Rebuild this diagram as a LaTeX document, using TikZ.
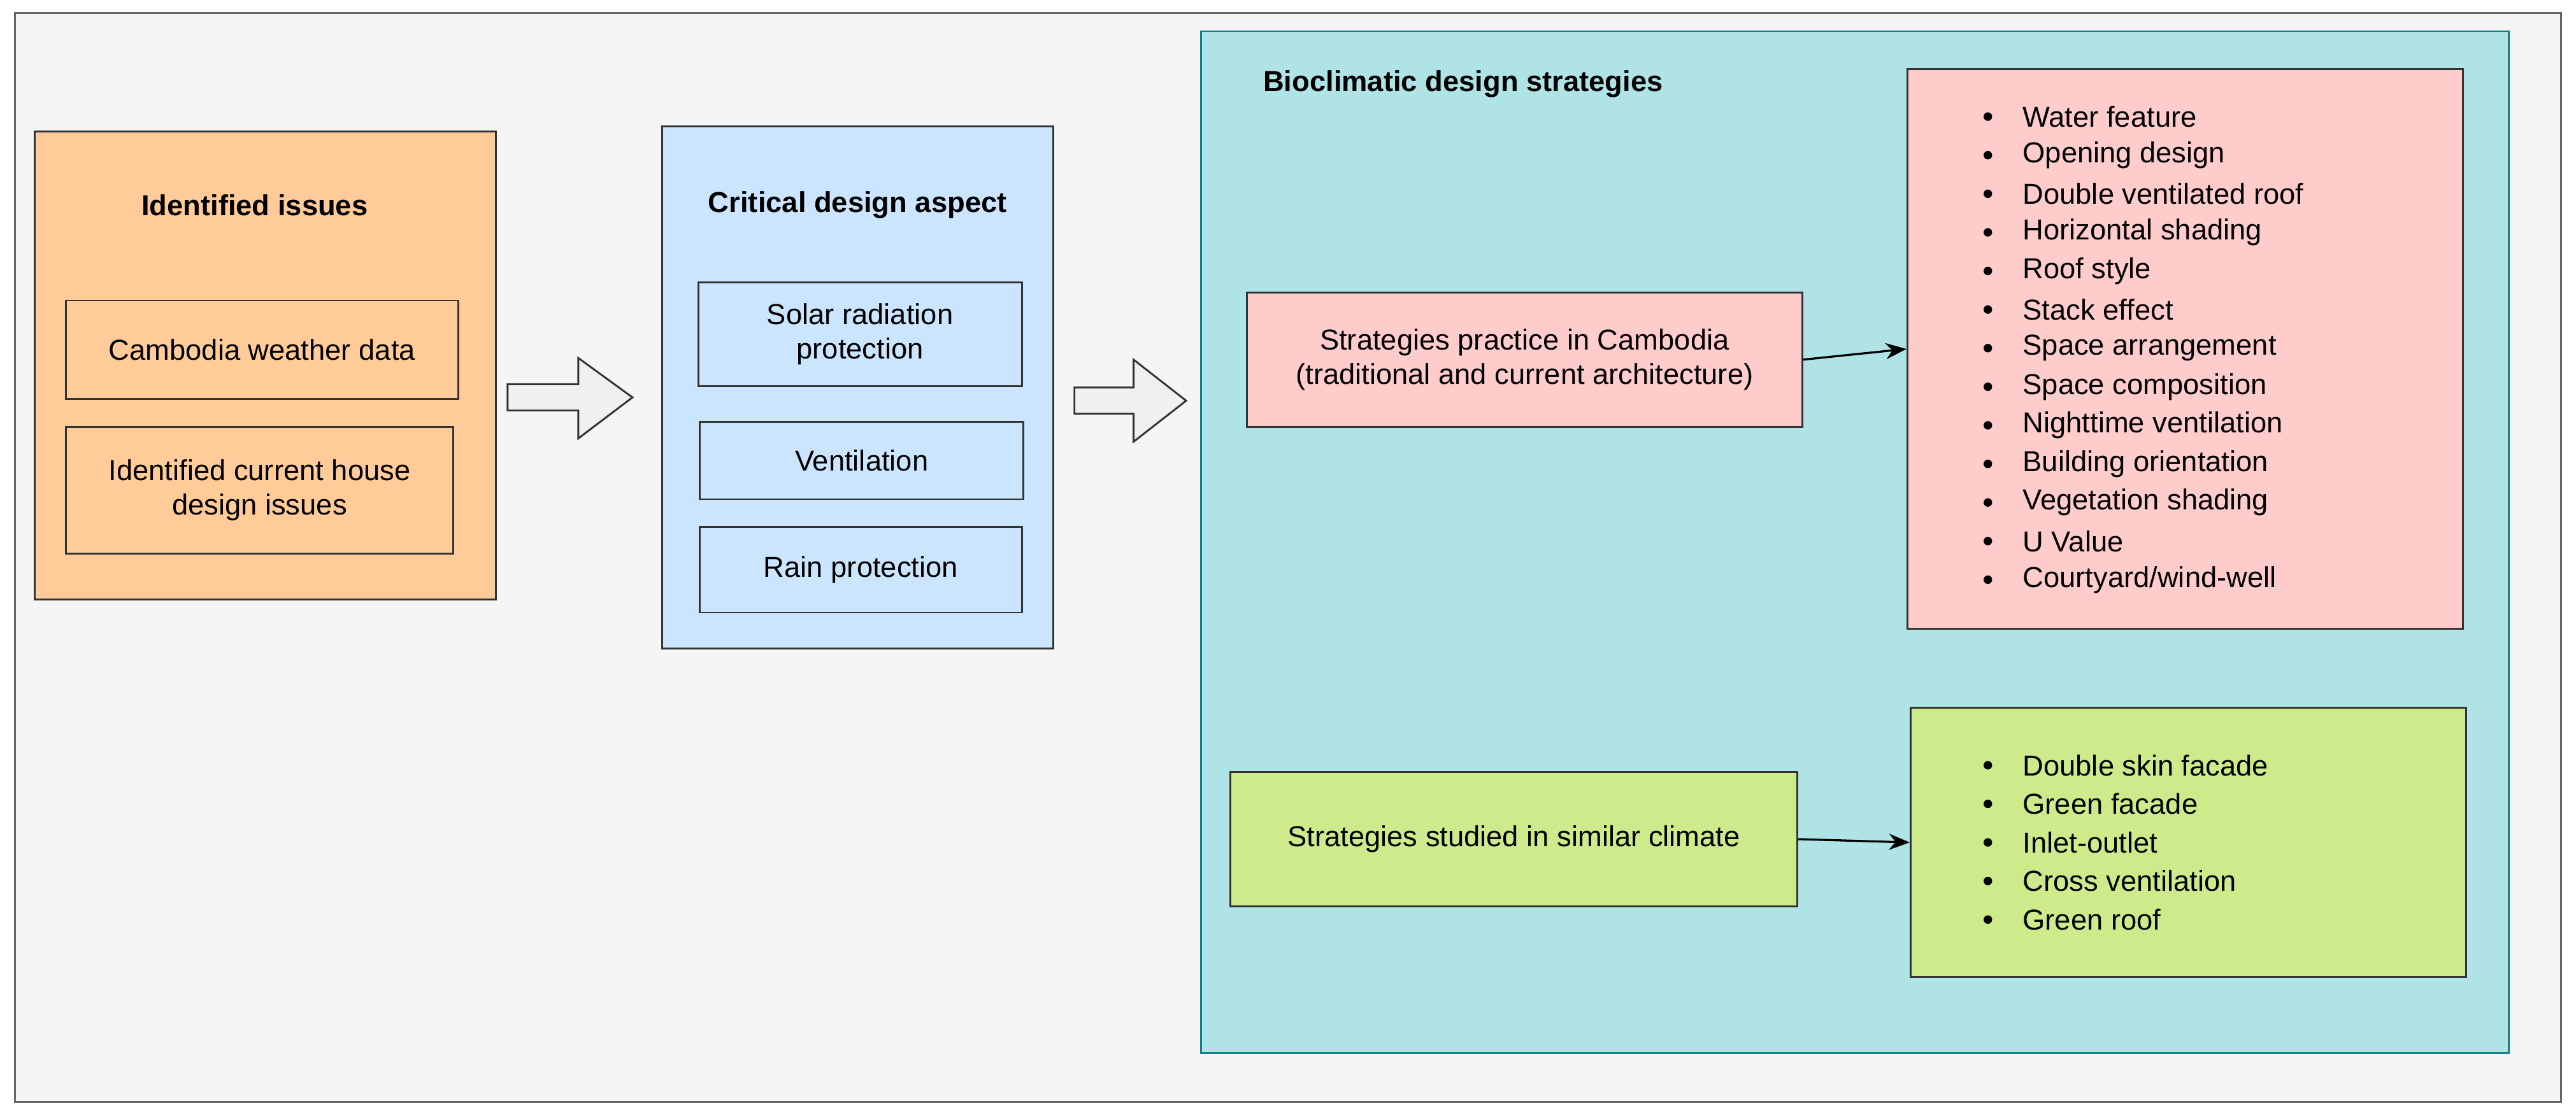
\documentclass[tikz,border=0pt]{standalone}
\usepackage{fontspec}
\setmainfont{Liberation Sans}
\usetikzlibrary{arrows.meta}
\definecolor{bgc}{HTML}{F5F5F5}
\definecolor{bgs}{HTML}{666666}
\definecolor{orf}{HTML}{FFCC99}
\definecolor{blf}{HTML}{CCE5FF}
\definecolor{tlf}{HTML}{B0E3E6}
\definecolor{tls}{HTML}{0E8088}
\definecolor{pkf}{HTML}{FFCCCC}
\definecolor{gnf}{HTML}{CDEB8B}
\definecolor{arf}{HTML}{F0F0F0}
\definecolor{stk}{HTML}{333333}
\begin{document}
\begin{tikzpicture}[x=0.025cm,y=-0.025cm,
  box/.style={draw=stk,line width=0.8pt},
  txt/.style={font=\fontsize{12.5}{15}\selectfont,align=center,text=black},
  ttl/.style={font=\fontsize{12.5}{15}\selectfont\bfseries,text=black},
  item/.style={font=\fontsize{12.5}{15}\selectfont,anchor=west,inner sep=0pt},
  conn/.style={-{Stealth[length=9pt,width=7pt]},line width=0.9pt,black}]
\useasboundingbox (0,0) rectangle (1568,682);
\draw[fill=bgc,draw=bgs,line width=0.8pt] (9,8) rectangle (1559,671);
% orange
\draw[box,fill=orf] (21,80) rectangle (302,365);
\node[ttl] (t1) at (155,125) {Identified issues};
\draw[box] (40,183) rectangle (279,243);
\node[txt] (o1) at (159.5,213) {Cambodia weather data};
\draw[box] (40,260) rectangle (276,337);
\node[txt] (o2) at (158,298.5) {Identified current house\\design issues};
% arrow 1
\draw[box,fill=arf] (309,234)--(352,234)--(352,218)--(385,242)--(352,267)--(352,250)--(309,250)--cycle;
% blue
\draw[box,fill=blf] (403,77) rectangle (641,395);
\node[ttl] (t2) at (522,125) {Critical design aspect};
\draw[box] (425,172) rectangle (622,235);
\node[txt] (b1) at (523.5,203.5) {Solar radiation\\protection};
\draw[box] (426,257) rectangle (623,304);
\node[txt] (b2) at (524.5,280.5) {Ventilation};
\draw[box] (426,321) rectangle (622,373);
\node[txt] (b3) at (524,347) {Rain protection};
% arrow 2
\draw[box,fill=arf] (654,236)--(690,236)--(690,219)--(722,244)--(690,269)--(690,252)--(654,252)--cycle;
% teal
\draw[fill=tlf,draw=tls,line width=0.8pt] (731,19) rectangle (1527,641);
\node[ttl,anchor=west] (t3) at (764,51) {Bioclimatic design strategies};
\node[box,fill=pkf,txt,minimum width=338*0.025cm,minimum height=82*0.025cm] (p) at (928,219) {Strategies practice in Cambodia\\(traditional and current architecture)};
\node[box,fill=pkf,minimum width=338*0.025cm,minimum height=341*0.025cm] (pl) at (1330,212.5) {};
\node[box,fill=gnf,txt,minimum width=345*0.025cm,minimum height=82*0.025cm] (g) at (921.5,511) {Strategies studied in similar climate};
\node[box,fill=gnf,minimum width=338*0.025cm,minimum height=164*0.025cm] (gl) at (1332,513) {};
\draw[conn] (p.east) -- (pl.west);
\draw[conn] (g.east) -- (gl.west);
\foreach \t [count=\i] in {Water feature,Opening design,Double ventilated roof,Horizontal shading,Roof style,Stack effect,Space arrangement,Space composition,Nighttime ventilation,Building orientation,Vegetation shading,U Value,Courtyard/wind-well}{
  \node[item] (pi\i) at (1231,{71+(\i-1)*23.5}) {\t};
  \fill (1210,{71+(\i-1)*23.5}) circle (2.6);
}
\foreach \t [count=\i] in {Double skin facade,Green facade,Inlet-outlet,Cross ventilation,Green roof}{
  \node[item] (gi\i) at (1231,{466+(\i-1)*23.5}) {\t};
  \fill (1210,{466+(\i-1)*23.5}) circle (2.6);
}
\end{tikzpicture}
\end{document}
